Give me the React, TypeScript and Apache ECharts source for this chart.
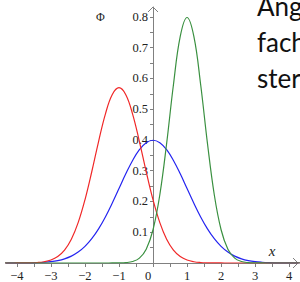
import React, { useEffect, useRef } from "react";
import * as echarts from "echarts";

const xs = [-4.4, -4.2, -4.0, -3.8, -3.6, -3.4, -3.2, -3.0, -2.8, -2.6, -2.4, -2.2, -2.0, -1.8, -1.6, -1.4, -1.2, -1.0, -0.8, -0.6, -0.4, -0.2, 0, 0.2, 0.4, 0.6, 0.8, 1.0, 1.2, 1.4, 1.6, 1.8, 2.0, 2.2, 2.4, 2.6, 2.8, 3.0, 3.2, 3.4, 3.6, 3.8, 4.0, 4.2, 4.4];

const blueY = [0, 0.0001, 0.0001, 0.0003, 0.0006, 0.0012, 0.0024, 0.0044, 0.0079, 0.0136, 0.0224, 0.0355, 0.054, 0.079, 0.1109, 0.1497, 0.1942, 0.242, 0.2897, 0.3332, 0.3683, 0.391, 0.3989, 0.391, 0.3683, 0.3332, 0.2897, 0.242, 0.1942, 0.1497, 0.1109, 0.079, 0.054, 0.0355, 0.0224, 0.0136, 0.0079, 0.0044, 0.0024, 0.0012, 0.0006, 0.0003, 0.0001, 0.0001, 0];

const redY = [0, 0, 0.0001, 0.0002, 0.0006, 0.0016, 0.0041, 0.0096, 0.0209, 0.0418, 0.0771, 0.1311, 0.2054, 0.2966, 0.3947, 0.484, 0.5471, 0.5699, 0.5471, 0.484, 0.3947, 0.2966, 0.2054, 0.1311, 0.0771, 0.0418, 0.0209, 0.0096, 0.0041, 0.0016, 0.0006, 0.0002, 0.0001, 0, 0, 0, 0, 0, 0, 0, 0, 0, 0, 0, 0];

const greenY = [0, 0, 0, 0, 0, 0, 0, 0, 0, 0, 0, 0, 0, 0, 0, 0, 0.0001, 0.0003, 0.0012, 0.0048, 0.0158, 0.0448, 0.108, 0.2218, 0.3884, 0.5794, 0.7365, 0.7979, 0.7365, 0.5794, 0.3884, 0.2218, 0.108, 0.0448, 0.0158, 0.0048, 0.0012, 0.0003, 0.0001, 0, 0, 0, 0, 0, 0];

const xLabelValues = [-4, -3, -2, -1, 0, 1, 2, 3, 4];
const xTickValues = [-4, -3.5, -3, -2.5, -2, -1.5, -1, -0.5, 0, 0.5, 1, 1.5, 2, 2.5, 3, 3.5, 4];
const yLabelValues = [0.1, 0.2, 0.3, 0.4, 0.5, 0.6, 0.7, 0.8];
const yTickValues = [0.05, 0.1, 0.15, 0.2, 0.25, 0.3, 0.35, 0.4, 0.45, 0.5, 0.55, 0.6, 0.65, 0.7, 0.75, 0.8];
const sideText = ["Ang", "fach", "ster"];

const AXIS = "#808080";
const SERIF = "Liberation Serif";

export default function App() {
  const ref = useRef<HTMLDivElement>(null);
  useEffect(() => {
    if (!ref.current) return;
    const chart = echarts.init(ref.current, null, { renderer: "svg" });
    const mk = (ys: number[]) => xs.map((x, i) => [x, ys[i]]);
    const lineSeries = (name: string, ys: number[], color: string) => ({
      type: "line",
      name,
      data: mk(ys),
      showSymbol: false,
      smooth: 0.4,
      lineStyle: { color, width: 1.2 },
      itemStyle: { color },
    });
    chart.setOption({
      animation: false,
      grid: { left: 6, top: 7, width: 292, height: 256, outerBoundsMode: "none", containLabel: false },
      xAxis: {
        type: "value",
        min: -4.32,
        max: 4.26,
        splitLine: { show: false },
        axisLine: { onZero: false, lineStyle: { color: AXIS, width: 1 } },
        axisTick: { customValues: xTickValues, length: 4, lineStyle: { color: AXIS } },
        axisLabel: {
          customValues: xLabelValues,
          margin: 6,
          color: "#222",
          fontFamily: SERIF,
          fontSize: 12.5,
          formatter: (v: number) => (v === 0 ? "{z|0}" : v < 0 ? "\u2212" + Math.abs(v) : String(v)),
          rich: { z: { padding: [0, 10, 0, 0], fontFamily: SERIF, fontSize: 12.5, color: "#222" } },
        },
      },
      yAxis: {
        type: "value",
        min: 0,
        max: 0.832,
        offset: -147,
        splitLine: { show: false },
        axisLine: { onZero: false, lineStyle: { color: AXIS, width: 1 } },
        axisTick: { customValues: yTickValues, length: 3, lineStyle: { color: AXIS } },
        axisLabel: {
          customValues: yLabelValues,
          margin: 5,
          color: "#222",
          fontFamily: SERIF,
          fontSize: 12.5,
          formatter: (v: number) => v.toFixed(1),
        },
      },
      graphic: [
        { type: "polyline", shape: { points: [[293, 258], [298, 263], [293, 268]] }, style: { stroke: AXIS, fill: "none", lineWidth: 1 } },
        { type: "polyline", shape: { points: [[148, 12], [153, 7], [158, 12]] }, style: { stroke: AXIS, fill: "none", lineWidth: 1 } },
        { type: "text", x: 100.5, y: 17, style: { text: "\u03A6", font: "12px " + SERIF, fill: "#222", align: "center", verticalAlign: "middle" } },
        { type: "text", x: 272, y: 251, style: { text: "x", font: "italic 15px " + SERIF, fill: "#222", align: "center", verticalAlign: "middle" } },
        ...sideText.map((t, i) => ({
          type: "text",
          x: 257,
          y: -7 + i * 36,
          style: { text: t, font: "26px Lato", fill: "#111", align: "left", verticalAlign: "top" },
        })),
      ],
      series: [
        lineSeries("blue", blueY, "#2424f0"),
        lineSeries("red", redY, "#f02828"),
        lineSeries("green", greenY, "#3a9040"),
      ],
    });
    return () => chart.dispose();
  }, []);
  return <div ref={ref} style={{ width: 300, height: 282, position: "absolute", left: 0, top: 0 }} />;
}
